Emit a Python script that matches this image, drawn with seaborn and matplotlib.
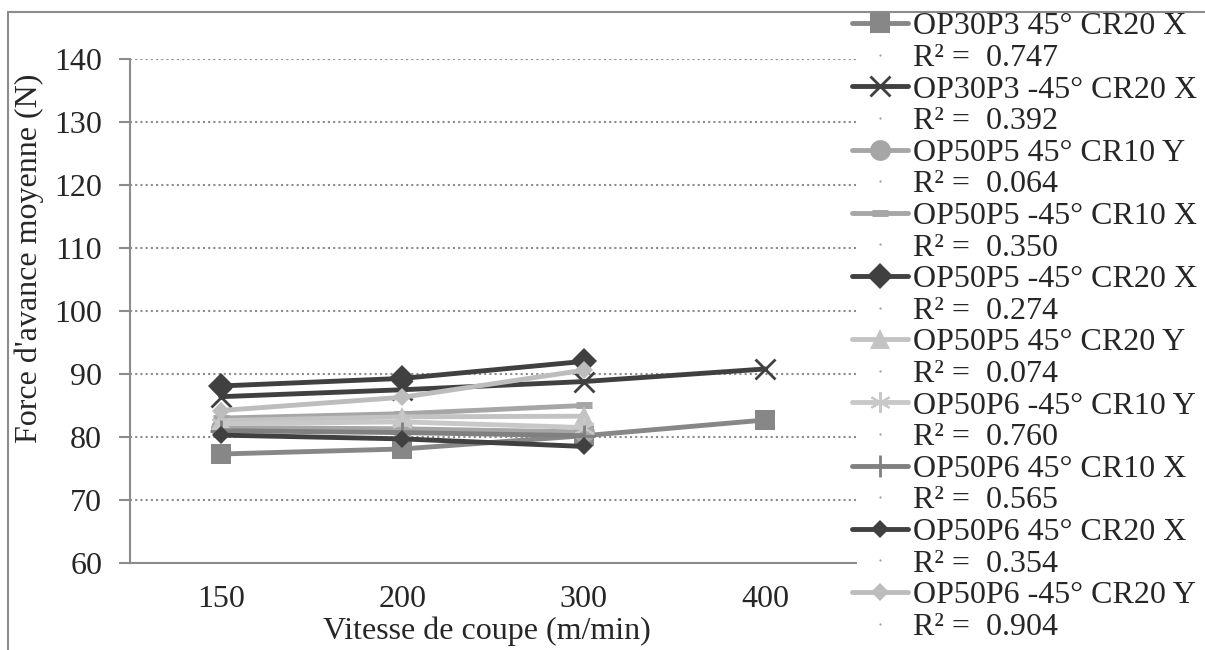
import matplotlib
matplotlib.use("Agg")
import matplotlib.pyplot as plt
from matplotlib.lines import Line2D
from matplotlib.patches import Rectangle
import seaborn as sns
import pandas as pd

categories = ["150", "200", "300", "400"]

series_names = [
    "OP30P3 45° CR20 X",
    "OP30P3 -45° CR20 X",
    "OP50P5 45° CR10 Y",
    "OP50P5 -45° CR10 X",
    "OP50P5 -45° CR20 X",
    "OP50P5 45° CR20 Y",
    "OP50P6 -45° CR10 Y",
    "OP50P6 45° CR10 X",
    "OP50P6 45° CR20 X",
    "OP50P6 -45° CR20 Y",
]

s1 = [77.3, 78.1, 80.2, 82.7]
s2 = [86.4, 87.5, 88.8, 90.8]
s3 = [81.5, 81.3, 80.8]
s4 = [83.0, 83.7, 85.0]
s5 = [88.1, 89.3, 92.0]
s6 = [82.6, 83.2, 83.3]
s7 = [82.1, 82.4, 81.5]
s8 = [81.0, 80.7, 80.2]
s9 = [80.3, 79.7, 78.5]
s10 = [84.2, 86.3, 90.6]
series_values = [s1, s2, s3, s4, s5, s6, s7, s8, s9, s10]

r2_labels = ["0.747", "0.392", "0.064", "0.350", "0.274",
             "0.074", "0.760", "0.565", "0.354", "0.904"]

colors = ["#878787", "#404040", "#a6a6a6", "#a6a6a6", "#404040",
          "#c3c3c3", "#c8c8c8", "#808080", "#404040", "#bdbdbd"]
markers = ["s", "x", "o", "_", "D", "^", (6, 2, 0), "+", "D", "D"]
msizes = [15, 15, 15, 12, 13, 15, 15, 16, 9, 9]
medges = [0, 2.0, 0, 5.0, 0, 0, 1.5, 2.0, 0, 0]

sns.set_theme(style="white")
plt.rcParams["font.family"] = ["Liberation Serif", "DejaVu Serif"]
FS = 23

fig = plt.figure(figsize=(12.05, 6.5), dpi=100)
ax = fig.add_axes([130 / 1205, 1 - 563 / 650, (856 - 130) / 1205, (563 - 59) / 650])

frame = Rectangle((8 / 1205, -0.05), 1.1, 1 - 12 / 650 + 0.05, transform=fig.transFigure,
                  fill=False, edgecolor="#8c8c8c", lw=1.5, zorder=0)
fig.patches.append(frame)

handles = []
for name, vals, c, m, ms, mew in zip(series_names, series_values, colors, markers, msizes, medges):
    df = pd.DataFrame({"x": list(range(len(vals))), "y": vals})
    sns.lineplot(data=df, x="x", y="y", ax=ax, color=c, lw=3.5, marker=m,
                 markersize=ms, markeredgewidth=mew, markeredgecolor=c,
                 markerfacecolor=c, legend=False)
    handles.append(Line2D([], [], color=c, lw=3.5, marker=m, markersize=ms,
                          markeredgewidth=mew, markeredgecolor=c, markerfacecolor=c))

leg_handles, leg_labels = [], []
for h, n, r in zip(handles, series_names, r2_labels):
    leg_handles.append(h)
    leg_labels.append(n)
    leg_handles.append(Line2D([], [], color="#888888", lw=0, marker=".", markersize=1))
    leg_labels.append("R² =  " + r)

ax.set_xlim(-0.5, 3.5)
ax.set_ylim(60, 140)
ax.set_yticks(range(60, 141, 10))
ax.set_xticks(range(len(categories)))
ax.set_xticklabels(categories)
ax.set_xticks([-0.5, 0.5, 1.5, 2.5, 3.5], minor=True)
ax.tick_params(axis="x", which="major", length=0, labelsize=FS, pad=16)
ax.tick_params(axis="x", which="minor", length=8, width=1.5, color="#8c8c8c", direction="out")
ax.tick_params(axis="y", length=8, width=1.5, color="#8c8c8c", labelsize=FS, pad=12, left=True)
for sp in ["top", "right"]:
    ax.spines[sp].set_visible(False)
for sp in ["left", "bottom"]:
    ax.spines[sp].set_color("#8c8c8c")
    ax.spines[sp].set_linewidth(1.5)
ax.yaxis.grid(True, linestyle=(0, (1, 1.5)), color="#8c8c8c", lw=1.5)
ax.xaxis.grid(False)
ax.set_axisbelow(True)
ax.set_xlabel("Vitesse de coupe (m/min)", fontsize=FS)
ax.xaxis.set_label_coords((487 - 130) / 726, -(616 - 563) / 504)
ax.set_ylabel("Force d'avance moyenne (N)", fontsize=FS)
ax.yaxis.set_label_coords((44 - 130) / 726, (563 - 258) / 504)

fig.legend(leg_handles, leg_labels, loc="upper left",
           bbox_to_anchor=(852 / 1205, 1 - 12 / 650), frameon=False,
           fontsize=FS, handlelength=1.75, handletextpad=0.15,
           labelspacing=0.07, borderpad=0, borderaxespad=0)

fig.savefig("out.png", dpi=100)
